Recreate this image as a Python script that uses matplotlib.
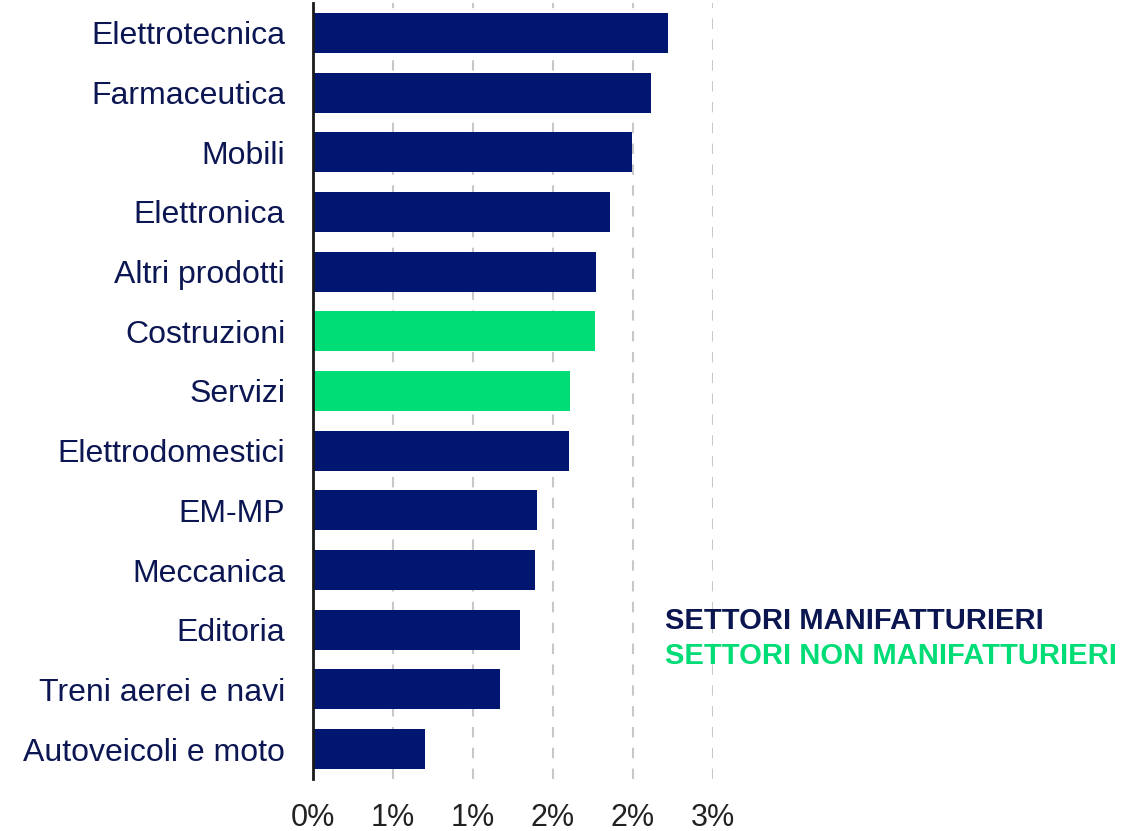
import matplotlib
matplotlib.use("Agg")
import matplotlib.pyplot as plt

# Sector growth rates (%), top to bottom
sectors = [
    "Elettrotecnica", "Farmaceutica", "Mobili", "Elettronica", "Altri prodotti",
    "Costruzioni", "Servizi", "Elettrodomestici", "EM-MP", "Meccanica",
    "Editoria", "Treni aerei e navi", "Autoveicoli e moto",
]
values = [2.216, 2.114, 1.991, 1.854, 1.766, 1.764, 1.606, 1.598,
          1.398, 1.389, 1.296, 1.169, 0.700]
manufacturing = [True, True, True, True, True, False, False, True,
                 True, True, True, True, True]

tick_values = [0.0, 0.5, 1.0, 1.5, 2.0, 2.5]
tick_labels = ["0%", "1%", "1%", "2%", "2%", "3%"]

NAVY = "#001670"
GREEN = "#00DC76"
LABEL_NAVY = "#0B1652"

plt.rcParams["font.family"] = ["Liberation Sans", "DejaVu Sans"]

fig = plt.figure(figsize=(11.43, 8.31), dpi=100)
ax = fig.add_axes([313 / 1143, 1 - 779 / 831, 400 / 1143, 776 / 831])

ypos = list(range(len(sectors)))
colors = [NAVY if m else GREEN for m in manufacturing]
ax.barh(ypos, values, height=0.67, color=colors, zorder=3)

ax.set_ylim(len(sectors) - 0.5, -0.5)
ax.set_xlim(0, 2.5)

ax.set_xticks(tick_values)
ax.set_xticklabels(tick_labels, fontsize=22, color="#222222")
ax.set_yticks(ypos)
ax.set_yticklabels(sectors, fontsize=23, color=LABEL_NAVY)
ax.tick_params(axis="both", length=0)
ax.tick_params(axis="y", pad=20)
ax.tick_params(axis="x", pad=17)

ax.grid(axis="x", linestyle=(0, (5, 5)), color="#C8C8C8", linewidth=1.5, zorder=0)
for side in ("top", "right", "bottom"):
    ax.spines[side].set_visible(False)
ax.spines["left"].set_color("#1A1A1A")
ax.spines["left"].set_linewidth(2)
ax.spines["left"].set_zorder(4)

fig.text(665 / 1143, 1 - 621 / 831, "SETTORI MANIFATTURIERI", fontsize=21,
         fontweight="bold", color="#0B1650", va="center", ha="left")
fig.text(665 / 1143, 1 - 656 / 831, "SETTORI NON MANIFATTURIERI", fontsize=21,
         fontweight="bold", color=GREEN, va="center", ha="left")

fig.savefig("out.png", dpi=100, facecolor="white")
